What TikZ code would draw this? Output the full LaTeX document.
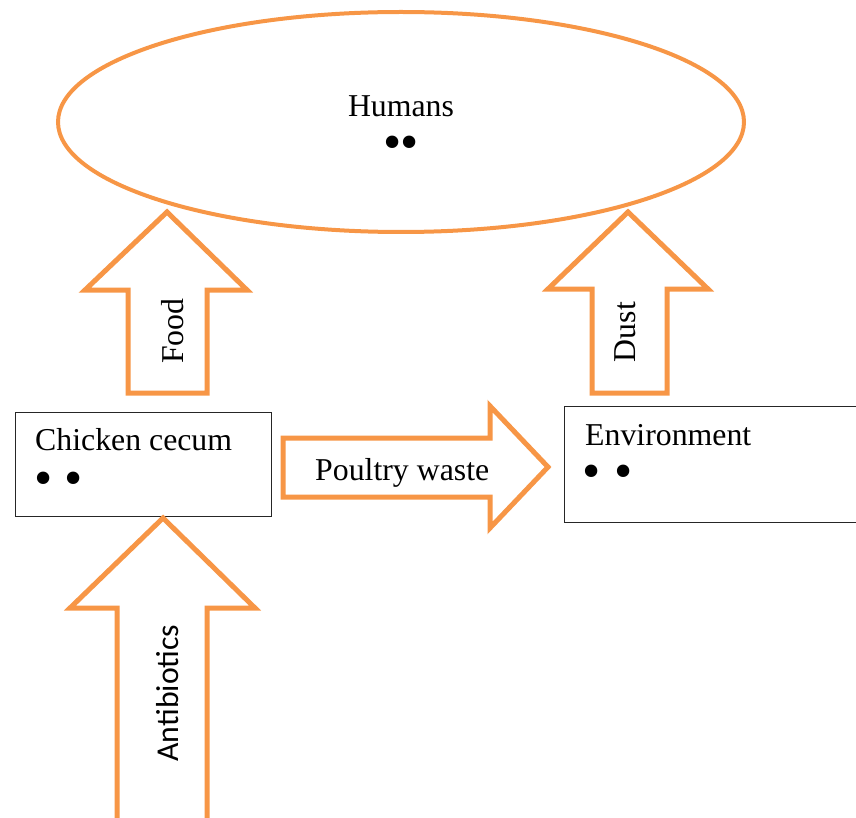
\documentclass[tikz,border=0pt]{standalone}
\usepackage{fontspec}
\setmainfont{Liberation Serif}
\newfontfamily\sansf{Carlito}
\usetikzlibrary{shapes.geometric}
\definecolor{org}{HTML}{F79646}
\begin{document}
\begin{tikzpicture}[x=1pt,y=-1pt, font=\fontsize{31.8}{36}\selectfont,
  blockarrow/.style={draw=org, line width=5pt, fill=white, line join=miter},
  txt/.style={inner sep=0pt, anchor=base west},
  dots/.style={inner sep=0pt, anchor=base west, font=\fontsize{52}{56}\selectfont},
  boxnode/.style={draw=black!85, line width=1.2pt, fill=white, anchor=north west, inner sep=0pt},
  vlabel/.style={inner sep=0pt, rotate=90}]
\useasboundingbox (0,0) rectangle (856,818);
% Humans ellipse
\node[ellipse, draw=org, line width=4pt, minimum width=686pt, minimum height=220pt, inner sep=0pt] (humans) at (401,122) {};
\node[txt, anchor=base] (humanslbl) at (401,117) {Humans};
\node[dots, anchor=base] (humansdots) at (401,160) {•\hspace{-2pt}•};
% boxes
\node[boxnode, minimum width=256pt, minimum height=104pt] (cecum) at (15,412) {};
\node[txt] (cecumlbl) at (35,450) {Chicken cecum};
\node[dots] (cecumdots) at (34,495) {•\hspace{12pt}•};
\node[boxnode, minimum width=292pt, minimum height=116pt] (env) at (564,406) {};
\node[txt] (envlbl) at (585,445) {Environment};
\node[dots] (envdots) at (582,488) {•\hspace{14pt}•};
% block arrows
\draw[blockarrow] (117,830) -- (117,608) -- (70,608) -- (163,518) -- (255,608) -- (207,608) -- (207,830);
\node[vlabel, font=\fontsize{31.8}{36}\sansf] (antilbl) at (168,693) {Antibiotics};
\draw[blockarrow] (128,393) -- (128,290) -- (85,290) -- (167,212) -- (247,290) -- (207,290) -- (207,393) -- cycle;
\node[vlabel] (foodlbl) at (173,331) {Food};
\draw[blockarrow] (592,393) -- (592,289) -- (548,289) -- (628,212) -- (708,289) -- (667,289) -- (667,393) -- cycle;
\node[vlabel] (dustlbl) at (625,332) {Dust};
\draw[blockarrow] (283,438) -- (490,438) -- (490,406) -- (548,467) -- (490,528) -- (490,497) -- (283,497) -- cycle;
\node[txt] (poultrylbl) at (315,480) {Poultry waste};
\end{tikzpicture}
\end{document}
